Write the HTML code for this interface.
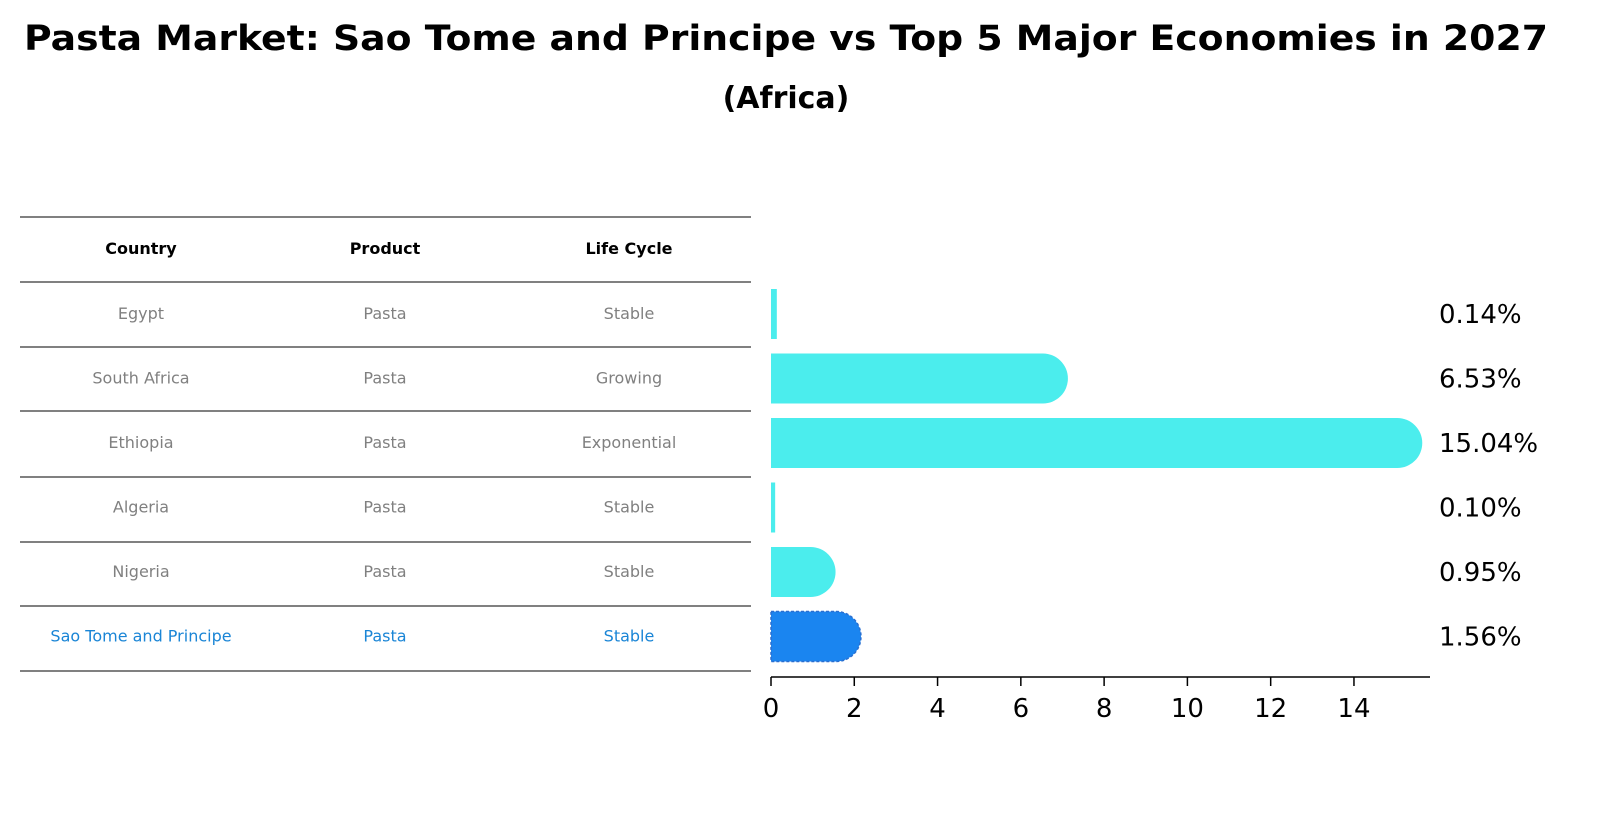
<!DOCTYPE html>
<html><head><meta charset="utf-8"><style>
html,body{margin:0;padding:0;background:#fff;overflow:hidden;width:1611px;height:823px;font-family:"Liberation Sans","DejaVu Sans",sans-serif;}
svg{display:block;}
</style></head><body>
<svg width="1611" height="823" xmlns="http://www.w3.org/2000/svg" font-family="DejaVu Sans, Liberation Sans, sans-serif">
<text x="786" y="50" text-anchor="middle" font-size="35" font-weight="bold" textLength="1524" lengthAdjust="spacingAndGlyphs">Pasta Market: Sao Tome and Principe vs Top 5 Major Economies in 2027</text>
<text x="786" y="108" text-anchor="middle" font-size="30" font-weight="bold">(Africa)</text>
<g id="table"></g>
<g id="bars"></g>
<g id="axis"></g>
</svg>
<script>
const countries=["Egypt","South Africa","Ethiopia","Algeria","Nigeria","Sao Tome and Principe"];
const products=["Pasta","Pasta","Pasta","Pasta","Pasta","Pasta"];
const lifecycles=["Stable","Growing","Exponential","Stable","Stable","Stable"];
const values=[0.14,6.53,15.04,0.10,0.95,1.56];
const ticks=[0,2,4,6,8,10,12,14];
const NS="http://www.w3.org/2000/svg";
function mk(t,a,p){const e=document.createElementNS(NS,t);for(const k in a)e.setAttribute(k,a[k]);p.appendChild(e);return e;}
const x0=771,k=41.64;function X(v){return x0+v*k;}
const rowY=i=>314+i*64.5;
const tbl=document.getElementById('table'),bars=document.getElementById('bars'),ax=document.getElementById('axis');
const lines=[217,282,347,411,477,542,606,671];
lines.forEach(y=>{const l=mk('line',{x1:20,x2:751,y1:y,y2:y,stroke:'#000','stroke-width':1},tbl);

});
const cx=[141,385,629];
["Country","Product","Life Cycle"].forEach((h,j)=>{const t=mk('text',{x:cx[j],y:254,'text-anchor':'middle','font-size':16,'font-weight':'bold'},tbl);t.textContent=h;

});
countries.forEach((c,i)=>{const last=i===countries.length-1;const col=last?'#1a85d6':'#808080';
[c,products[i],lifecycles[i]].forEach((v,j)=>{const t=mk('text',{x:cx[j],y:rowY(i)+5,'text-anchor':'middle','font-size':16,fill:col},tbl);t.textContent=v;

});
const y=rowY(i),h=50,r=25,w=X(values[i])-x0;const fill=last?'#1a85f0':'#4beded';
const g=mk('g',{},bars);


let d;
if(w>r){d=`M${x0},${y-h/2}H${x0+w}A${r},${r} 0 0 1 ${x0+w},${y+h/2}H${x0}Z`;}else{d=`M${x0},${y-h/2}H${x0+w}V${y+h/2}H${x0}Z`;}
mk('path',{d:d,fill:fill,stroke:last?'#2a6fd0':'none','stroke-dasharray':last?'3,2':'none','stroke-width':last?1.5:0},g);
const t=mk('text',{x:1439,y:y+9,'font-size':26},bars);t.textContent=values[i].toFixed(2)+'%';


});
mk('line',{x1:x0,x2:1430,y1:677,y2:677,stroke:'#000','stroke-width':1.5},ax);
ticks.forEach(v=>{mk('line',{x1:X(v),x2:X(v),y1:677,y2:686,stroke:'#000','stroke-width':1.5},ax);
const t=mk('text',{x:X(v),y:717,'text-anchor':'middle','font-size':26},ax);t.textContent=v;

});
</script>
</body></html>
